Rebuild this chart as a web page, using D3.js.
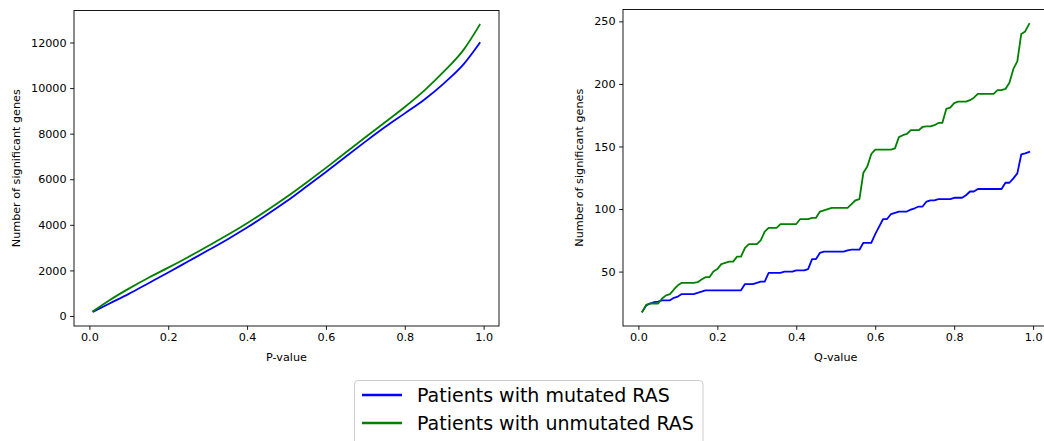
<!DOCTYPE html>
<html>
<head>
<meta charset="utf-8">
<script src="https://cdn.jsdelivr.net/npm/d3@7"></script>
<style>
  html, body { margin: 0; padding: 0; background: #fff; }
  svg { display: block; font-family: "DejaVu Sans", sans-serif; }
</style>
</head>
<body>
<svg id="chart" width="1044" height="441"></svg>
<script>
// ---------- data ----------
const seriesNames = ["Patients with mutated RAS", "Patients with unmutated RAS"];
const seriesColors = ["#0000ff", "#008000"];

// Left panel: P-value thresholds
const pX = [0.01, 0.05, 0.10, 0.15, 0.20, 0.25, 0.30, 0.35, 0.40, 0.45, 0.50,
            0.55, 0.60, 0.65, 0.70, 0.75, 0.80, 0.85, 0.90, 0.95, 0.99];
const pMutated = [190, 540, 970, 1440, 1910, 2390, 2870, 3360, 3880, 4440, 5030,
                  5670, 6320, 6990, 7650, 8290, 8890, 9500, 10220, 11060, 11975];
const pUnmutated = [215, 680, 1200, 1680, 2120, 2580, 3060, 3550, 4070, 4630, 5220,
                    5850, 6500, 7170, 7840, 8500, 9170, 9900, 10740, 11700, 12775];

// Right panel: Q-value thresholds 0.01 .. 0.99
const qX = d3.range(1, 100).map(i => i / 100);
const qMutated = [18, 23, 24.5, 25.6, 26, 27, 27, 27, 29, 30,
                  32, 32, 32, 32, 33, 34, 35, 35, 35, 35,
                  35, 35, 35, 35, 35, 35, 40, 40, 40, 41,
                  42, 42, 49, 49, 49, 49, 50, 50, 50, 51,
                  51, 51, 52, 60, 60, 65, 66, 66, 66, 66,
                  66, 66, 67, 67.5, 67.5, 67.5, 73, 73, 73, 80,
                  86, 92, 92, 96, 97, 98, 98, 98, 99.5, 100.6,
                  102, 102, 106, 107, 107, 108, 108, 108, 108, 109,
                  109, 109, 111, 114, 114, 116, 116, 116, 116, 116,
                  116, 116, 121, 121, 124.5, 128.5, 143.6, 144.5, 145.7];
const qUnmutated = [18, 23.5, 24.5, 24.5, 24.5, 28.5, 31, 32, 35.7, 39,
                    41, 41, 41, 41, 41.5, 43.6, 45.5, 45.5, 50, 52,
                    56, 57, 58, 58, 62, 62, 69, 72, 72, 72,
                    75, 82, 85, 85, 85, 88, 88, 88, 88, 88,
                    92, 92, 92, 93, 93, 98, 99, 100, 101, 101,
                    101, 101, 101, 104, 107, 108, 129, 134, 144, 147.5,
                    147.5, 147.5, 147.5, 147.5, 148.5, 157.5, 159, 160, 163, 163,
                    163, 165.6, 166, 166, 167, 168.8, 168.8, 180, 181, 184.7,
                    185.8, 185.8, 185.8, 187, 189, 192, 192, 192, 192, 192,
                    195, 195, 196, 201, 212, 218, 240, 242, 248];

const xTicks = [0, 0.2, 0.4, 0.6, 0.8, 1.0];
const pYTicks = [0, 2000, 4000, 6000, 8000, 10000, 12000];
const qYTicks = [50, 100, 150, 200, 250];

// ---------- drawing ----------
const svg = d3.select("#chart");
const fontSize = 11.2;

function padDomain(lo, hi) {
  const r = hi - lo;
  return [lo - 0.05 * r, hi + 0.05 * r];
}

function panel(opts) {
  const { left, right, top, bottom, xs, ys, yTicks, xLabel, yLabelX } = opts;
  const g = svg.append("g");
  const x = d3.scaleLinear().domain(padDomain(d3.min(xs), d3.max(xs))).range([left, right]);
  const allY = ys.flat();
  const y = d3.scaleLinear().domain(padDomain(d3.min(allY), d3.max(allY))).range([bottom, top]);

  // lines
  const line = d3.line().x((d, i) => x(xs[i])).y(d => y(d));
  if (opts.smooth) line.curve(d3.curveMonotoneX);
  ys.forEach((vals, k) => {
    g.append("path")
      .datum(vals)
      .attr("d", line)
      .attr("fill", "none")
      .attr("stroke", seriesColors[k])
      .attr("stroke-width", 1.8)
      .attr("stroke-linejoin", "round")
      .attr("stroke-linecap", "square");
  });

  // frame
  g.append("rect")
    .attr("x", left).attr("y", top)
    .attr("width", right - left).attr("height", bottom - top)
    .attr("fill", "none").attr("stroke", "#000").attr("stroke-width", 0.9);

  // x axis
  const xa = g.append("g").attr("transform", `translate(0,${bottom})`)
    .call(d3.axisBottom(x).tickValues(xTicks).tickFormat(d3.format(".1f"))
      .tickSizeInner(3.9).tickSizeOuter(0).tickPadding(3.5));
  xa.select(".domain").remove();
  xa.selectAll("line").attr("stroke", "#000").attr("stroke-width", 0.9);
  xa.selectAll("text").attr("font-size", fontSize).attr("fill", "#000")
    .attr("font-family", "DejaVu Sans");

  // y axis
  const ya = g.append("g").attr("transform", `translate(${left},0)`)
    .call(d3.axisLeft(y).tickValues(yTicks).tickFormat(d3.format("d"))
      .tickSizeInner(3.9).tickSizeOuter(0).tickPadding(3.5));
  ya.select(".domain").remove();
  ya.selectAll("line").attr("stroke", "#000").attr("stroke-width", 0.9);
  ya.selectAll("text").attr("font-size", fontSize).attr("fill", "#000")
    .attr("font-family", "DejaVu Sans");

  // labels
  g.append("text")
    .attr("x", (left + right) / 2).attr("y", 360.5)
    .attr("text-anchor", "middle").attr("font-size", fontSize).attr("fill", "#000")
    .text(xLabel);
  const yc = (top + bottom) / 2;
  g.append("text")
    .attr("transform", `translate(${yLabelX},${yc}) rotate(-90)`)
    .attr("text-anchor", "middle").attr("dy", "0.35em")
    .attr("font-size", fontSize).attr("fill", "#000")
    .text("Number of significant genes");
}

panel({ left: 74, right: 499, top: 10.5, bottom: 326, xs: pX, ys: [pMutated, pUnmutated],
        yTicks: pYTicks, xLabel: "P-value", yLabelX: 16, smooth: true });
panel({ left: 623, right: 1048.5, top: 9.5, bottom: 326, xs: qX, ys: [qMutated, qUnmutated],
        yTicks: qYTicks, xLabel: "Q-value", yLabelX: 579, smooth: false });

// legend
const lg = svg.append("g");
lg.append("rect")
  .attr("x", 354.5).attr("y", 380.5).attr("width", 348.5).attr("height", 70)
  .attr("rx", 3.5).attr("ry", 3.5)
  .attr("fill", "#fff").attr("fill-opacity", 0.8)
  .attr("stroke", "#cccccc").attr("stroke-width", 1);
const rowY = [395, 423];
seriesNames.forEach((name, i) => {
  lg.append("line")
    .attr("x1", 362).attr("x2", 402).attr("y1", rowY[i]).attr("y2", rowY[i])
    .attr("stroke", seriesColors[i]).attr("stroke-width", 2.4);
  lg.append("text")
    .attr("x", 417).attr("y", rowY[i]).attr("dy", "0.36em")
    .attr("font-size", 19).attr("fill", "#000")
    .text(name);
});
</script>
</body>
</html>
